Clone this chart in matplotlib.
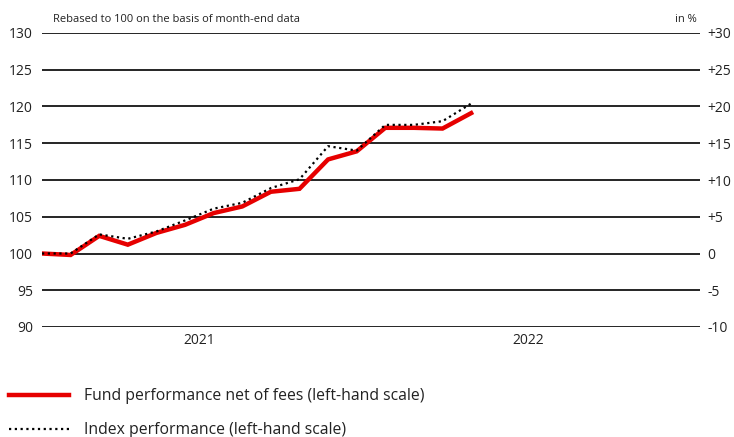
import matplotlib
matplotlib.use("Agg")
import matplotlib.pyplot as plt
import numpy as np

# month-end values, rebased to 100 (Dec 2020 .. Mar 2022)
months = np.arange(16)
fund = [100.0, 99.8, 102.4, 101.2, 102.8, 103.9, 105.5, 106.4,
        108.4, 108.8, 112.8, 113.9, 117.1, 117.1, 117.0, 119.1]
index = [100.0, 100.0, 102.6, 102.0, 103.0, 104.5, 106.1, 106.9,
         108.9, 110.1, 114.6, 114.0, 117.5, 117.5, 118.0, 120.4]

year_labels = ["2021", "2022"]
year_pos = [5.5, 17.0]
left_ticks = [90, 95, 100, 105, 110, 115, 120, 125, 130]

fund_label = "Fund performance net of fees (left-hand scale)"
index_label = "Index performance (left-hand scale)"

plt.rcParams['font.family'] = ['Open Sans', 'DejaVu Sans']
text_col = '#222222'

fig = plt.figure(figsize=(7.34, 4.37), dpi=100)
ax = fig.add_axes([42/734, 1 - 327/437, 658/734, 294/437])

for t in left_ticks:
    ax.axhline(t, color='black', lw=1.2, zorder=1)

ax.plot(months, fund, color='#e60000', lw=3.2, solid_joinstyle='miter',
        label=fund_label, zorder=3)
ax.plot(months, index, color='black', lw=1.6, linestyle=(0, (1, 1.6)),
        label=index_label, zorder=4)

ax.set_xlim(0, 23)
ax.set_ylim(90, 130)
ax.set_yticks(left_ticks)
ax.set_xticks(year_pos)
ax.set_xticklabels(year_labels)
ax.tick_params(axis='both', length=0, colors=text_col, labelsize=10)
ax.tick_params(axis='y', pad=6.5)
ax.tick_params(axis='x', pad=4.5)
for s in ax.spines.values():
    s.set_visible(False)

# right-hand scale in %
ax2 = ax.twinx()
ax2.set_ylim(-10, 30)
right_ticks = [t - 100 for t in left_ticks]
ax2.set_yticks(right_ticks)
ax2.set_yticklabels([f"+{t}" if t > 0 else str(t) for t in right_ticks])
ax2.tick_params(axis='y', length=0, colors=text_col, labelsize=10, pad=5.5)
for s in ax2.spines.values():
    s.set_visible(False)

fig.text(53/734, 1 - 19/437, "Rebased to 100 on the basis of month-end data",
         fontsize=8, color=text_col, va='center', ha='left')
fig.text(697/734, 1 - 19/437, "in %", fontsize=8, color=text_col,
         va='center', ha='right')

fig.legend(loc='upper left', bbox_to_anchor=(9/734, 1 - 388/437),
           frameon=False, fontsize=11.3, handlelength=3.8, handletextpad=0.95,
           labelspacing=1.15, borderaxespad=0, borderpad=0, labelcolor=text_col)

fig.savefig("out.png", dpi=100)
